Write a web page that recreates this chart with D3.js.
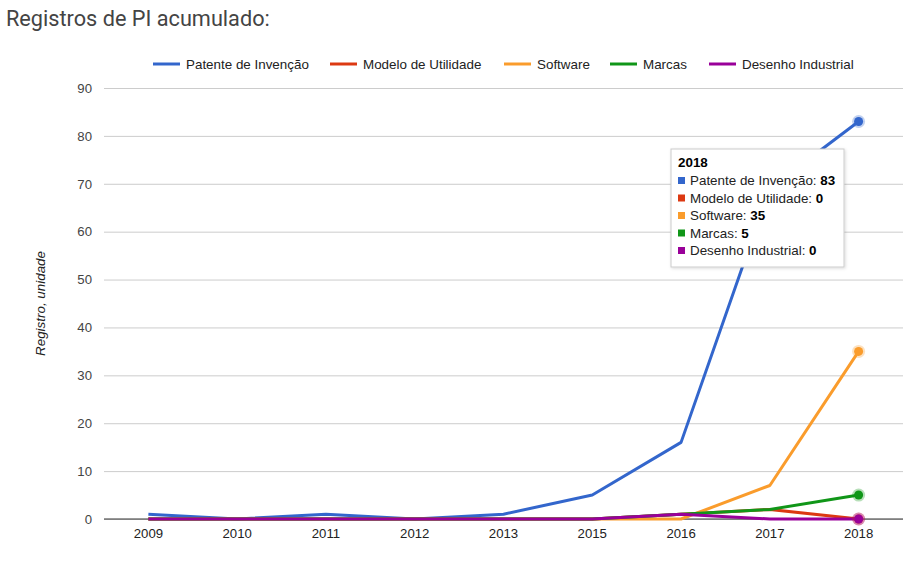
<!DOCTYPE html>
<html>
<head>
<meta charset="utf-8">
<script src="https://cdn.jsdelivr.net/npm/d3@7"></script>
<style>
  body { margin: 0; background: #fff; }
  svg { display: block; }
</style>
</head>
<body>
<svg id="chart" width="913" height="561"></svg>
<script>
const years = ["2009", "2010", "2011", "2012", "2013", "2015", "2016", "2017", "2018"];
const seriesNames = ["Patente de Invenção", "Modelo de Utilidade", "Software", "Marcas", "Desenho Industrial"];
const patente = [1, 0, 1, 0, 1, 5, 16, 69, 83];
const modelo = [0, 0, 0, 0, 0, 0, 1, 2, 0];
const software = [0, 0, 0, 0, 0, 0, 0, 7, 35];
const marcas = [0, 0, 0, 0, 0, 0, 1, 2, 5];
const desenho = [0, 0, 0, 0, 0, 0, 1, 0, 0];
const yTicks = [0, 10, 20, 30, 40, 50, 60, 70, 80, 90];
const colors = ["#3366cc", "#dc3912", "#fa9c2c", "#109618", "#990099"];
const title = "Registros de PI acumulado:";
const yTitle = "Registro, unidade";
const focusYear = "2018";

const allSeries = [patente, modelo, software, marcas, desenho];

const svg = d3.select("#chart");
const font = "Arial, 'Liberation Sans', sans-serif";

const pLeft = 104, pRight = 903, pTop = 88, pBottom = 519;

const x = d3.scaleBand().domain(years).range([pLeft, pRight]);
const y = d3.scaleLinear().domain([0, 90]).range([pBottom, pTop]);

// Title
svg.append("text")
  .attr("x", 6).attr("y", 26)
  .attr("font-family", "Roboto, Arial, sans-serif")
  .attr("font-size", 21.7)
  .attr("fill", "#444")
  .text(title);

// Gridlines
const yAxis = d3.axisLeft(y).tickValues(yTicks).tickSize(-(pRight - pLeft)).tickPadding(12);
const gy = svg.append("g").attr("transform", `translate(${pLeft},0)`).call(yAxis);
gy.select(".domain").remove();
gy.selectAll(".tick line").attr("stroke", "#cccccc").attr("stroke-width", 1);
gy.selectAll(".tick text").attr("font-family", font).attr("font-size", 13.2).attr("fill", "#444");

// x axis labels
const xAxis = d3.axisBottom(x).tickSize(0).tickPadding(10);
const gx = svg.append("g").attr("transform", `translate(0,${pBottom})`).call(xAxis);
gx.select(".domain").remove();
gx.selectAll(".tick text").attr("font-family", font).attr("font-size", 13.2).attr("fill", "#222");

// baseline
svg.append("line")
  .attr("x1", pLeft).attr("x2", pRight)
  .attr("y1", y(0)).attr("y2", y(0))
  .attr("stroke", "#333").attr("stroke-width", 1);

// y title
svg.append("text")
  .attr("transform", `translate(45,${(pTop + pBottom) / 2}) rotate(-90)`)
  .attr("text-anchor", "middle")
  .attr("font-family", font)
  .attr("font-size", 13.4)
  .attr("font-style", "italic")
  .attr("fill", "#222")
  .text(yTitle);

// lines
const line = d3.line()
  .x((d, i) => x(years[i]) + x.bandwidth() / 2)
  .y(d => y(d));

allSeries.forEach((s, k) => {
  svg.append("path")
    .datum(s)
    .attr("fill", "none")
    .attr("stroke", colors[k])
    .attr("stroke-width", 3)
    .attr("stroke-linejoin", "round")
    .attr("d", line);
});

// focus points
const fi = years.indexOf(focusYear);
allSeries.forEach((s, k) => {
  const cx = x(focusYear) + x.bandwidth() / 2;
  svg.append("circle")
    .attr("cx", cx).attr("cy", y(s[fi])).attr("r", 6.5)
    .attr("fill", colors[k]).attr("fill-opacity", 0.3);
  svg.append("circle")
    .attr("cx", cx).attr("cy", y(s[fi])).attr("r", 4.5)
    .attr("fill", colors[k]);
});

// legend
const legendX = [153, 330, 504, 610, 709];
const lg = svg.append("g");
seriesNames.forEach((n, k) => {
  lg.append("line")
    .attr("x1", legendX[k]).attr("x2", legendX[k] + 27)
    .attr("y1", 64).attr("y2", 64)
    .attr("stroke", colors[k]).attr("stroke-width", 3);
  lg.append("text")
    .attr("x", legendX[k] + 33).attr("y", 68.5)
    .attr("font-family", font).attr("font-size", 13.4)
    .attr("fill", "#222")
    .text(n);
});

// tooltip
const defs = svg.append("defs");
const filt = defs.append("filter").attr("id", "shadow").attr("x", "-10%").attr("y", "-10%").attr("width", "130%").attr("height", "130%");
filt.append("feDropShadow").attr("dx", 1).attr("dy", 1).attr("stdDeviation", 1.5).attr("flood-color", "#000").attr("flood-opacity", 0.15);
const tt = svg.append("g").attr("transform", "translate(671,149)");
tt.append("rect")
  .attr("width", 173).attr("height", 118)
  .attr("fill", "#fff").attr("stroke", "#cccccc").attr("stroke-width", 1)
  .attr("filter", "url(#shadow)");
tt.append("text")
  .attr("x", 7).attr("y", 18)
  .attr("font-family", font).attr("font-size", 13.4).attr("font-weight", "bold")
  .attr("fill", "#000")
  .text(focusYear);
seriesNames.forEach((n, k) => {
  const ty = 36 + k * 17.5;
  tt.append("rect")
    .attr("x", 7).attr("y", ty - 8).attr("width", 7).attr("height", 7)
    .attr("fill", colors[k]);
  const t = tt.append("text")
    .attr("x", 19).attr("y", ty)
    .attr("font-family", font).attr("font-size", 13.4).attr("fill", "#222");
  t.append("tspan").text(n + ": ");
  t.append("tspan").attr("font-weight", "bold").attr("fill", "#000").text(allSeries[k][fi]);
});
</script>
</body>
</html>
